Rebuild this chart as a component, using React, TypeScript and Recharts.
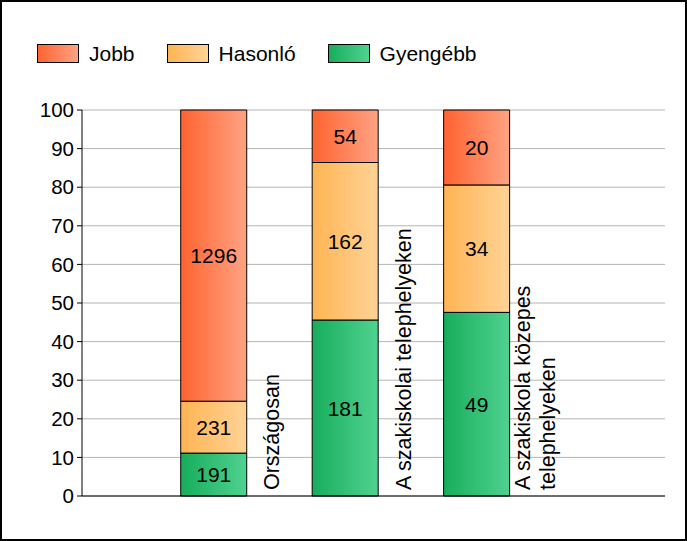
import { BarChart, Bar, XAxis, YAxis, CartesianGrid, LabelList } from "recharts";

const categories = [
  "Országosan",
  "A szakiskolai telephelyeken",
  "A szakiskola közepes\ntelephelyeken",
];
const jobb = [1296, 54, 20];
const hasonlo = [231, 162, 34];
const gyengebb = [191, 181, 49];
const yTicks = [0, 10, 20, 30, 40, 50, 60, 70, 80, 90, 100];

const FONT = "'Liberation Sans', Arial, sans-serif";

const series = [
  { key: "gyengebb", name: "Gyengébb", values: gyengebb, from: "#17ad5c", to: "#50d290" },
  { key: "hasonlo", name: "Hasonló", values: hasonlo, from: "#ffb453", to: "#ffd396" },
  { key: "jobb", name: "Jobb", values: jobb, from: "#ff6330", to: "#ffa383" },
];
const legendOrder = ["jobb", "hasonlo", "gyengebb"];

const chartData = categories.map((name, i) => ({
  name,
  pos: 2 * (i + 1),
  jobb: jobb[i],
  hasonlo: hasonlo[i],
  gyengebb: gyengebb[i],
}));

function valueLabel(values: number[]) {
  return (props: any) => {
    const { x, y, width, height, index } = props;
    return (
      <text
        x={Number(x) + Number(width) / 2}
        y={Number(y) + Number(height) / 2}
        textAnchor="middle"
        dominantBaseline="central"
        fontSize={21}
        fontFamily={FONT}
        fill="#000"
      >
        {values[index]}
      </text>
    );
  };
}

// rotated category name in the empty slot right of each bar
function categoryLabel(props: any) {
  const { x, y, width, height, index } = props;
  const lines = categories[index].split("\n");
  const bottom = Number(y) + Number(height) - 6;
  const right = Number(x) + Number(width);
  return (
    <g>
      {lines.map((line, j) => {
        const bx = right + 32.5 - (lines.length - 1) * 12.5 + j * 25;
        return (
          <text
            key={j}
            x={bx}
            y={bottom}
            transform={`rotate(-90 ${bx} ${bottom})`}
            textAnchor="start"
            fontSize={21.5}
            fontFamily={FONT}
            fill="#000"
          >
            {line}
          </text>
        );
      })}
    </g>
  );
}

export default function App() {
  return (
    <div
      style={{
        position: "fixed",
        left: 0,
        top: 0,
        width: 687,
        height: 541,
        background: "#fff",
        fontFamily: FONT,
      }}
    >
      <div
        style={{
          position: "absolute",
          left: 37,
          top: 44,
          display: "flex",
          alignItems: "center",
          gap: 32,
          fontSize: 21,
          color: "#000",
        }}
      >
        {legendOrder.map((k) => {
          const s = series.find((d) => d.key === k)!;
          return (
            <div key={k} style={{ display: "flex", alignItems: "center", gap: 10 }}>
              <div
                style={{
                  width: 42,
                  height: 19,
                  boxSizing: "border-box",
                  border: "1px solid #000",
                  background: `linear-gradient(to right, ${s.from}, ${s.to})`,
                }}
              />
              <span style={{ lineHeight: "19px" }}>{s.name}</span>
            </div>
          );
        })}
      </div>

      <BarChart
        width={687}
        height={541}
        data={chartData}
        stackOffset="expand"
        margin={{ top: 110, right: 22, bottom: 0, left: 0 }}
      >
        <defs>
          {series.map((s) => (
            <linearGradient key={s.key} id={`grad-${s.key}`} x1="0" y1="0" x2="1" y2="0">
              <stop offset="0%" stopColor={s.from} />
              <stop offset="100%" stopColor={s.to} />
            </linearGradient>
          ))}
        </defs>
        <CartesianGrid vertical={false} stroke="#b4b4b4" />
        <XAxis
          dataKey="pos"
          type="number"
          domain={[0, 8.87]}
          tick={false}
          tickLine={false}
          axisLine={{ stroke: "#000" }}
          height={45}
        />
        <YAxis
          domain={[0, 1]}
          ticks={yTicks.map((t) => t / 100)}
          tickFormatter={(v: number) => String(Math.round(v * 100))}
          width={82}
          tickSize={5}
          tickMargin={3}
          axisLine={{ stroke: "#000" }}
          tickLine={{ stroke: "#000" }}
          tick={{ fontSize: 20.5, fill: "#000", fontFamily: FONT }}
          interval={0}
        />
        {series.map((s) => (
          <Bar
            key={s.key}
            dataKey={s.key}
            name={s.name}
            stackId="a"
            barSize={66}
            fill={`url(#grad-${s.key})`}
            stroke="#000"
            strokeWidth={1}
            isAnimationActive={false}
          >
            <LabelList dataKey={s.key} content={valueLabel(s.values)} />
            {s.key === "gyengebb" && <LabelList dataKey={s.key} content={categoryLabel} />}
          </Bar>
        ))}
      </BarChart>

      <div
        style={{
          position: "absolute",
          left: 0,
          top: 0,
          width: 687,
          height: 541,
          boxSizing: "border-box",
          border: "2px solid #000",
          pointerEvents: "none",
        }}
      />
    </div>
  );
}
